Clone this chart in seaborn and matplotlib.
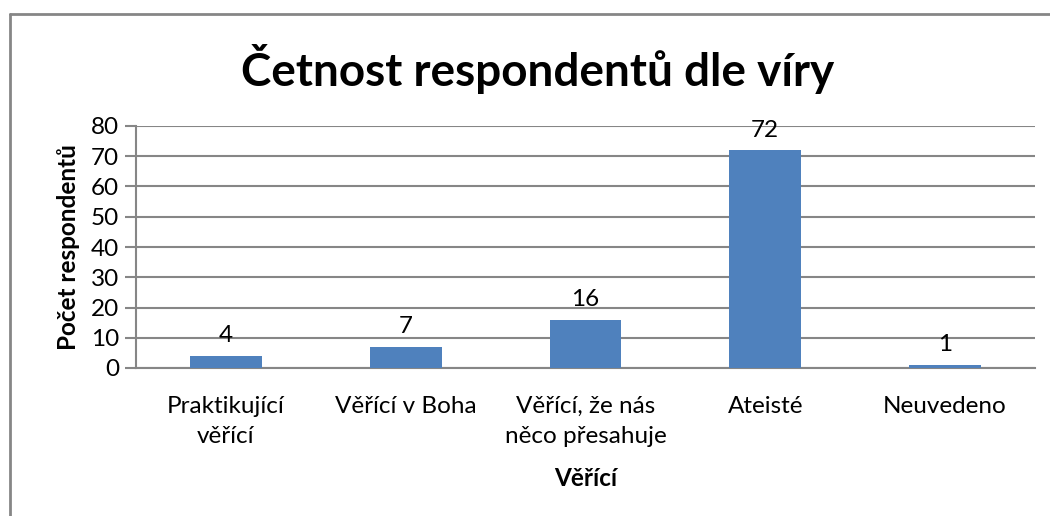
import pandas as pd
import matplotlib
matplotlib.use("Agg")
import matplotlib.pyplot as plt
import seaborn as sns
from matplotlib.lines import Line2D

# data
kategorie = ["Praktikující\nvěřící", "Věřící v Boha", "Věřící, že nás\nněco přesahuje", "Ateisté", "Neuvedeno"]
pocty = [4, 7, 16, 72, 1]

sns.set_style("white")
plt.rcParams["font.family"] = ["Lato", "DejaVu Sans"]
plt.rcParams["text.color"] = "black"
plt.rcParams["xtick.color"] = "black"
plt.rcParams["ytick.color"] = "black"
plt.rcParams["axes.labelcolor"] = "black"

df = pd.DataFrame({"kategorie": kategorie, "pocet": pocty})

fig = plt.figure(figsize=(10.5, 5.16), dpi=100)
ax = fig.add_axes([136 / 1050, 1 - 368 / 516, (1035 - 136) / 1050, (368 - 126) / 516])

sns.barplot(data=df, x="kategorie", y="pocet", color="#4F81BD", width=0.4,
            saturation=1, linewidth=0, ax=ax, zorder=3)

grid_col = "#868686"
ax.set_ylim(0, 80)
ax.set_yticks(range(0, 81, 10))
ax.set_xlim(-0.5, len(kategorie) - 0.5)
ax.yaxis.grid(True, color=grid_col, linewidth=1.5, zorder=0)
ax.set_axisbelow(True)
for side in ["top", "right"]:
    ax.spines[side].set_visible(False)
for side in ["left", "bottom"]:
    ax.spines[side].set_color(grid_col)
    ax.spines[side].set_linewidth(1.5)

ax.tick_params(axis="y", which="major", direction="out", length=8, width=1.5,
               color=grid_col, labelcolor="black", labelsize=17.5, pad=4, left=True)
ax.tick_params(axis="x", length=0, labelsize=17.5, pad=20)
for lbl in ax.get_xticklabels():
    lbl.set_linespacing(1.55)

for i, v in enumerate(pocty):
    ax.text(i, v + 3.2, str(v), ha="center", va="bottom", fontsize=17.5)

ax.set_xlabel("Věřící", fontsize=17.5, fontweight="bold", labelpad=14)
ax.set_ylabel("Počet respondentů", fontsize=17.5, fontweight="bold", labelpad=8)

fig.text(538 / 1050, 1 - 69 / 516, "Četnost respondentů dle víry", ha="center", va="center",
         fontsize=33, fontweight="bold")

# chart border (top and left edge visible)
fig.add_artist(Line2D([10 / 1050, 10 / 1050], [0, 1 - 14 / 516], color=grid_col, linewidth=2,
                      transform=fig.transFigure))
fig.add_artist(Line2D([10 / 1050, 1], [1 - 14 / 516, 1 - 14 / 516], color=grid_col, linewidth=2,
                      transform=fig.transFigure))

fig.savefig("out.png", dpi=100)
